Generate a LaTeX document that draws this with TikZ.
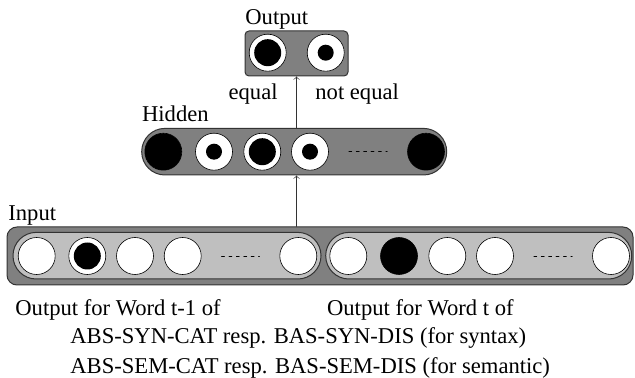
\documentclass[tikz,border=0pt]{standalone}
\usepackage{fontspec}
\setmainfont{Liberation Serif}
\usetikzlibrary{positioning}

\tikzset{
  lbl/.style={inner sep=0pt,font=\fontsize{11.3}{13.5}\selectfont},
  layer/.style={draw=black!80,fill=black!50,line width=0.5pt,inner sep=0pt},
  unit/.style={circle,draw,fill=white,line width=0.3pt,minimum size=18.5pt,inner sep=0pt},
  full/.style={circle,fill=black,minimum size=18.5pt,inner sep=0pt},
  big/.style={circle,fill=black,minimum size=13.5pt,inner sep=0pt},
  dot/.style={circle,fill=black,minimum size=8pt,inner sep=0pt},
  off/.style={inner sep=0pt},
  dots/.style={dash pattern=on 1.5pt off 2.2pt,line width=0.3pt},
  arr/.style={->,>=to,line width=0.3pt,black!80}
}

\begin{document}
\begin{tikzpicture}[x=0.5pt,y=-0.5pt,line join=round,line cap=round]
  \useasboundingbox (0,0) rectangle (635,378);
  % layers
  \node[layer,rounded corners=2pt,minimum width=51.5pt,minimum height=22.5pt] (output) at (296.5,53.5) {};
  \node[layer,rounded corners=11.6pt,minimum width=152.5pt,minimum height=23.3pt] (hidden) at (294.2,151.7) {};
  \node[layer,rounded corners=5pt,minimum width=313pt,minimum height=29pt] (input) at (320,256) {};
  \node[layer,fill=black!25,rounded corners=11.6pt,minimum width=154pt,minimum height=23.3pt] (left) at (167,255.7) {};
  \node[layer,fill=black!25,rounded corners=11.6pt,minimum width=153pt,minimum height=23.3pt] (right) at (478.7,255.7) {};
  % units
  \foreach \x/\k [count=\n] in {267.7/big,325.7/dot}{
    \node[unit] (o\n) at (\x,52.7) {}; \node[\k] at (o\n) {};}
  \foreach \x/\k [count=\n] in {163.3/full,214/dot,262.3/big,310/dot,426/full}{
    \node[unit] (h\n) at (\x,151.7) {}; \node[\k] at (h\n) {};}
  \foreach \x/\k [count=\n] in {36.7/off,87.3/big,135/off,182.7/off,298.3/off,
      348.3/off,399/full,447.3/off,495/off,611/off}{
    \node[unit] (i\n) at (\x,256) {}; \node[\k] at (i\n) {};}
  \draw[dots] ([xshift=10pt]i4.east) -- ([xshift=-10pt]i5.west);
  \draw[dots] ([xshift=10pt]i9.east) -- ([xshift=-10pt]i10.west);
  \draw[dots] ([xshift=10pt]h4.east) -- ([xshift=-10pt]h5.west);
  % connections
  \draw[arr] (input.north -| output.south) -- (hidden.south -| output.south);
  \draw[arr] (hidden.north -| output.south) -- (output.south);
  % labels
  \node[lbl,anchor=base west] (outlbl) at (245,25) {Output};
  \node[lbl,anchor=base west] (hidlbl) at (141.7,121.7) {Hidden};
  \node[lbl,anchor=base west] (inlbl) at (8,221) {Input};
  \node[lbl,anchor=base east] (eq) at (278,100) {equal};
  \node[lbl,anchor=base west] (neq) at (315,100) {not equal};
  \node[lbl,anchor=base west] (w1) at (15,315) {Output for Word t-1 of};
  \node[lbl,anchor=base west] (w2) at (326.7,315) {Output for Word t of};
  \node[lbl,anchor=base west] (syn) at (70,343.5) {ABS-SYN-CAT resp. BAS-SYN-DIS (for syntax)};
  \node[lbl,anchor=base west] (sem) at (70,373) {ABS-SEM-CAT resp. BAS-SEM-DIS (for semantic)};
\end{tikzpicture}
\end{document}
